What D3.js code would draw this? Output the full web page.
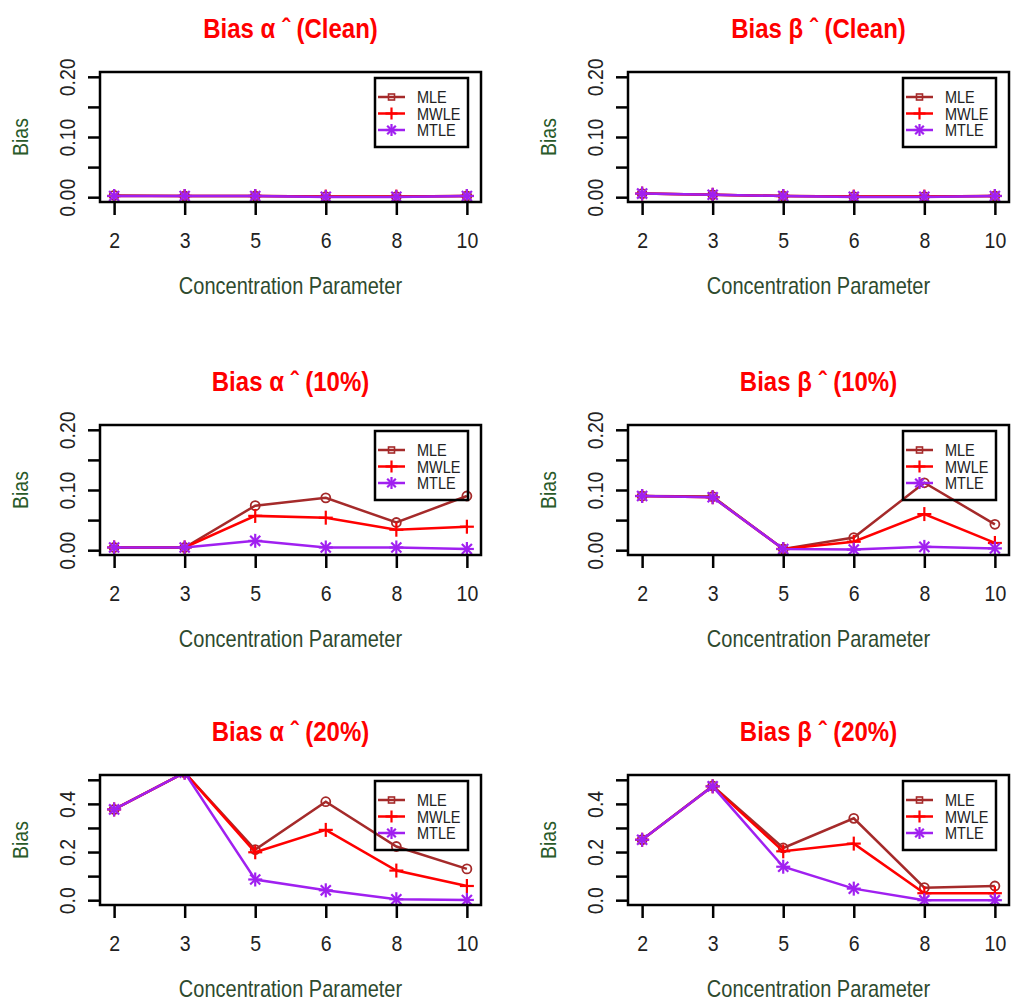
<!DOCTYPE html>
<html>
<head>
<meta charset="utf-8">
<script src="https://cdn.jsdelivr.net/npm/d3@7"></script>
<style>
  body { margin: 0; background: #fff; }
  svg text { font-family: "Liberation Sans", Arial, sans-serif; }
</style>
</head>
<body>
<div id="chart"></div>
<script>
// categories on the x axis
var concentration = ["2", "3", "5", "6", "8", "10"];
var estimators = ["MLE", "MWLE", "MTLE"];
var colors = ["#A52A2A", "#FF0000", "#A020F0"];

// bias values, one row per estimator (MLE, MWLE, MTLE)
var alphaClean = [
    [0.003, 0.002, 0.002, 0.001, 0.001, 0.002],
    [0.002, 0.002, 0.002, 0.001, 0.001, 0.002],
    [0.002, 0.002, 0.002, 0.0005, 0.0005, 0.002]
];
var betaClean = [
    [0.006, 0.004, 0.002, 0.001, 0.001, 0.002],
    [0.006, 0.004, 0.002, 0.001, 0.001, 0.002],
    [0.006, 0.004, 0.002, 0.0005, 0.0005, 0.002]
];
var alpha10 = [
    [0.0045, 0.0045, 0.074, 0.087, 0.046, 0.09],
    [0.0045, 0.0045, 0.057, 0.054, 0.034, 0.039],
    [0.0045, 0.0045, 0.0155, 0.0045, 0.0045, 0.002]
];
var beta10 = [
    [0.09, 0.089, 0.002, 0.021, 0.112, 0.043],
    [0.09, 0.088, 0.002, 0.014, 0.06, 0.012],
    [0.09, 0.088, 0.002, 0.001, 0.0055, 0.003]
];
var alpha20 = [
    [0.377, 0.53, 0.21, 0.409, 0.223, 0.13],
    [0.377, 0.53, 0.199, 0.292, 0.123, 0.059],
    [0.377, 0.53, 0.086, 0.041, 0.004, 0.001]
];
var beta20 = [
    [0.251, 0.475, 0.217, 0.34, 0.052, 0.059],
    [0.251, 0.473, 0.203, 0.235, 0.029, 0.029],
    [0.251, 0.473, 0.139, 0.048, 0.0, 0.0]
];

// y ticks and labels
var yTicksSmall = [0, 0.05, 0.10, 0.15, 0.20];
var yLabelsSmall = ["0.00", "", "0.10", "", "0.20"];
var yTicksLarge = [0, 0.1, 0.2, 0.3, 0.4, 0.5];
var yLabelsLarge = ["0.0", "", "0.2", "", "0.4", ""];

var panels = [
    {param: "α", tag: "(Clean)", data: alphaClean, ymax: 0.2, ticks: yTicksSmall, labels: yLabelsSmall, col: 0, row: 0},
    {param: "β", tag: "(Clean)", data: betaClean, ymax: 0.2, ticks: yTicksSmall, labels: yLabelsSmall, col: 1, row: 0},
    {param: "α", tag: "(10%)", data: alpha10, ymax: 0.2, ticks: yTicksSmall, labels: yLabelsSmall, col: 0, row: 1},
    {param: "β", tag: "(10%)", data: beta10, ymax: 0.2, ticks: yTicksSmall, labels: yLabelsSmall, col: 1, row: 1},
    {param: "α", tag: "(20%)", data: alpha20, ymax: 0.5, ticks: yTicksLarge, labels: yLabelsLarge, col: 0, row: 2},
    {param: "β", tag: "(20%)", data: beta20, ymax: 0.5, ticks: yTicksLarge, labels: yLabelsLarge, col: 1, row: 2}
];

// layout of the plot boxes
var boxLeft = [100, 628],
    boxTop = [72, 425, 775],
    boxW = 381,
    boxH = 130;

// the original text looks a bit stretched vertically
var K = 1.17;

var svg = d3.select("#chart").append("svg")
    .attr("width", 1011)
    .attr("height", 1003);

panels.forEach(function (p, pi) {
    var x0 = boxLeft[p.col], y0 = boxTop[p.row];

    var x = d3.scalePoint()
        .domain(concentration)
        .range([x0, x0 + boxW])
        .padding(0.2);

    var ext = p.ymax * 0.04;
    var y = d3.scaleLinear()
        .domain([-ext, p.ymax + ext])
        .range([y0 + boxH, y0]);

    var g = svg.append("g");

    // title
    g.append("text")
        .attr("transform", "translate(" + (x0 + boxW / 2) + "," + (y0 - 44) + ") scale(1," + K + ")")
        .attr("dy", "0.36em")
        .attr("text-anchor", "middle")
        .attr("fill", "#FF0000")
        .attr("font-weight", "bold")
        .attr("font-size", 24)
        .text("Bias " + p.param + " ˆ " + p.tag);

    // clip to the plot box
    var clipId = "clip" + pi;
    svg.append("clipPath").attr("id", clipId)
        .append("rect")
        .attr("x", x0).attr("y", y0)
        .attr("width", boxW).attr("height", boxH);

    var plot = g.append("g").attr("clip-path", "url(#" + clipId + ")");

    var line = d3.line()
        .x(function (d, i) { return x(concentration[i]); })
        .y(function (d) { return y(d); });

    p.data.forEach(function (vals, si) {
        plot.append("path")
            .attr("d", line(vals))
            .attr("fill", "none")
            .attr("stroke", colors[si])
            .attr("stroke-width", 2.5);

        vals.forEach(function (v, i) {
            drawMarker(plot, si, x(concentration[i]), y(v), 7);
        });
    });

    // box
    g.append("rect")
        .attr("x", x0).attr("y", y0)
        .attr("width", boxW).attr("height", boxH)
        .attr("fill", "none")
        .attr("stroke", "#000")
        .attr("stroke-width", 2.5);

    // y axis
    var yAxis = d3.axisLeft(y)
        .tickValues(p.ticks)
        .tickSize(12)
        .tickFormat(function (d, i) { return p.labels[i]; });
    var ya = g.append("g")
        .attr("transform", "translate(" + x0 + ",0)")
        .call(yAxis);
    ya.select(".domain").remove();
    ya.selectAll(".tick line").attr("stroke", "#000").attr("stroke-width", 2.5);
    ya.selectAll(".tick text")
        .attr("x", null)
        .attr("dy", "0.36em")
        .attr("transform", "translate(-33,0) rotate(-90) scale(1," + K + ")")
        .attr("text-anchor", "middle")
        .attr("fill", "#222")
        .attr("font-size", 19.5)
        .attr("font-family", "Liberation Sans, Arial, sans-serif");

    // x axis
    var xAxis = d3.axisBottom(x)
        .tickSize(13);
    var xa = g.append("g")
        .attr("transform", "translate(0," + (y0 + boxH) + ")")
        .call(xAxis);
    xa.select(".domain").remove();
    xa.selectAll(".tick line").attr("stroke", "#000").attr("stroke-width", 2.5);
    xa.selectAll(".tick text")
        .attr("y", null)
        .attr("dy", "0.36em")
        .attr("transform", "translate(0,38) scale(1," + K + ")")
        .attr("fill", "#222")
        .attr("font-size", 19.5)
        .attr("font-family", "Liberation Sans, Arial, sans-serif");

    // axis titles
    g.append("text")
        .attr("transform", "translate(" + (x0 + boxW / 2) + "," + (y0 + boxH + 84) + ") scale(1," + K + ")")
        .attr("dy", "0.36em")
        .attr("text-anchor", "middle")
        .attr("fill", "#2E4A2E")
        .attr("font-size", 20)
        .text("Concentration Parameter");

    g.append("text")
        .attr("transform", "translate(" + (x0 - 80) + "," + (y0 + boxH / 2) + ") rotate(-90) scale(1," + K + ")")
        .attr("dy", "0.36em")
        .attr("text-anchor", "middle")
        .attr("fill", "#2A5A2A")
        .attr("font-size", 19.5)
        .text("Bias");

    // legend
    var lx = x0 + 275, ly = y0 + 6;
    var leg = g.append("g");
    leg.append("rect")
        .attr("x", lx).attr("y", ly)
        .attr("width", 93).attr("height", 69)
        .attr("fill", "none")
        .attr("stroke", "#000")
        .attr("stroke-width", 2.5);
    estimators.forEach(function (name, si) {
        var ry = ly + 19 + si * 16.5;
        leg.append("line")
            .attr("x1", lx + 3).attr("x2", lx + 30)
            .attr("y1", ry).attr("y2", ry)
            .attr("stroke", colors[si])
            .attr("stroke-width", 2.5);
        drawMarker(leg, si === 0 ? -1 : si, lx + 16.5, ry, 6);
        leg.append("text")
            .attr("transform", "translate(" + (lx + 42) + "," + ry + ") scale(1,1.2)")
            .attr("dy", "0.36em")
            .attr("font-size", 14.5)
            .attr("fill", "#222")
            .text(name);
    });
});

// point symbols: 0 circle, 1 plus, 2 star, -1 small square (legend)
function drawMarker(sel, type, cx, cy, s) {
    if (type === 0) {
        sel.append("circle")
            .attr("cx", cx).attr("cy", cy).attr("r", 4.5)
            .attr("fill", "none")
            .attr("stroke", colors[0])
            .attr("stroke-width", 1.8);
    } else if (type === -1) {
        sel.append("rect")
            .attr("x", cx - 3).attr("y", cy - 3)
            .attr("width", 6).attr("height", 6)
            .attr("fill", "none")
            .attr("stroke", colors[0])
            .attr("stroke-width", 1.6);
    } else {
        var c = colors[type];
        var segs = [[-s, 0, s, 0], [0, -s, 0, s]];
        if (type === 2) {
            var d = s * 0.72;
            segs.push([-d, -d, d, d], [-d, d, d, -d]);
        }
        segs.forEach(function (q) {
            sel.append("line")
                .attr("x1", cx + q[0]).attr("y1", cy + q[1])
                .attr("x2", cx + q[2]).attr("y2", cy + q[3])
                .attr("stroke", c)
                .attr("stroke-width", 2.2);
        });
    }
}
</script>
</body>
</html>
